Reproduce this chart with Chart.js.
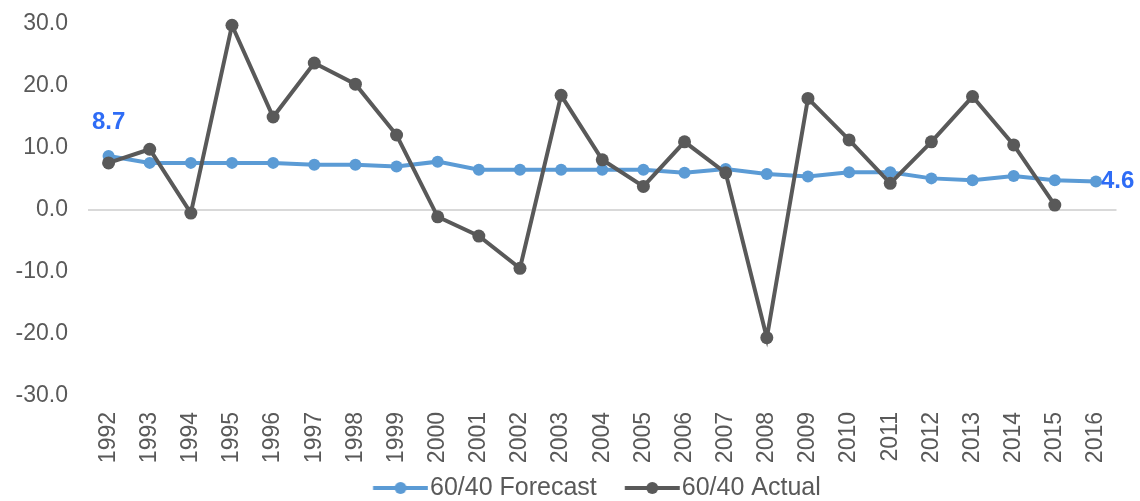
<!DOCTYPE html>
<html>
<head>
<meta charset="utf-8">
<script src="https://cdn.jsdelivr.net/npm/chart.js@4.4.1/dist/chart.umd.min.js"></script>
<style>
  html, body { margin: 0; padding: 0; background: #ffffff; }
  #wrap { width: 1140px; height: 501px; position: relative; }
</style>
</head>
<body>
<div id="wrap"><canvas id="c" width="1140" height="501"></canvas></div>
<script>
const years = ['1992','1993','1994','1995','1996','1997','1998','1999','2000','2001','2002','2003','2004','2005','2006','2007','2008','2009','2010','2011','2012','2013','2014','2015','2016'];
const forecast = [8.7, 7.6, 7.6, 7.6, 7.6, 7.3, 7.3, 7.0, 7.8, 6.5, 6.5, 6.5, 6.5, 6.5, 6.0, 6.6, 5.8, 5.4, 6.1, 6.1, 5.1, 4.8, 5.5, 4.8, 4.6];
const actual = [7.6, 9.8, -0.5, 29.8, 15.0, 23.7, 20.3, 12.1, -1.1, -4.2, -9.4, 18.5, 8.1, 3.8, 11.0, 6.0, -20.6, 18.0, 11.3, 4.3, 11.0, 18.3, 10.5, 0.8, null];
const yTicks = [-30, -20, -10, 0, 10, 20, 30];
const seriesNames = ['60/40 Forecast', '60/40 Actual'];

const colForecast = '#5B9BD5';
const colActual = '#595959';
const colLabel = '#2E6CF6';
const colText = '#595959';

function legendMarker(color) {
  const c = document.createElement('canvas');
  c.width = 82; c.height = 14;
  const g = c.getContext('2d');
  g.strokeStyle = color; g.lineWidth = 4;
  g.beginPath(); g.moveTo(26.75, 7); g.lineTo(81.75, 7); g.stroke();
  g.fillStyle = color;
  g.beginPath(); g.arc(54.25, 7, 6, 0, Math.PI * 2); g.fill();
  return c;
}

const endLabels = {
  id: 'endLabels',
  afterLayout(chart) {
    chart.legend.left += 60.8;
  },
  afterDatasetsDraw(chart) {
    const ctx = chart.ctx;
    const meta = chart.getDatasetMeta(0);
    const data = chart.data.datasets[0].data;
    const first = meta.data[0];
    const last = meta.data[data.length - 1];
    ctx.save();
    ctx.fillStyle = colLabel;
    ctx.font = 'bold 24px "Liberation Sans", Arial, sans-serif';
    ctx.textBaseline = 'middle';
    ctx.textAlign = 'center';
    ctx.fillText(data[0].toFixed(1), first.x, first.y - 34);
    ctx.textAlign = 'left';
    ctx.fillText(data[data.length - 1].toFixed(1), last.x + 5, last.y);
    ctx.restore();
  }
};

new Chart(document.getElementById('c'), {
  type: 'line',
  data: {
    labels: years,
    datasets: [
      {
        label: seriesNames[0],
        data: forecast,
        borderColor: colForecast,
        backgroundColor: colForecast,
        borderWidth: 4,
        pointRadius: 6,
        pointBorderWidth: 0,
        pointBackgroundColor: colForecast,
        tension: 0,
        order: 1,
        clip: false,
        pointStyle: 'circle'
      },
      {
        label: seriesNames[1],
        data: actual,
        borderColor: colActual,
        backgroundColor: colActual,
        borderWidth: 4,
        pointRadius: 6.5,
        pointBorderWidth: 0,
        pointBackgroundColor: colActual,
        tension: 0,
        order: 0,
        clip: false,
        pointStyle: 'circle'
      }
    ]
  },
  options: {
    responsive: false,
    animation: false,
    devicePixelRatio: 1,
    layout: { padding: { left: 0, right: 23, top: 24, bottom: -9.5 } },
    plugins: {
      tooltip: { enabled: false },
      legend: {
        position: 'bottom',
        labels: {
          usePointStyle: true,
          pointStyleWidth: 60.5,
          padding: 12,
          color: colText,
          font: { family: '"Liberation Sans", Arial, sans-serif', size: 25 },
          sort: (a, b) => a.datasetIndex - b.datasetIndex,
          generateLabels(chart) {
            return chart.data.datasets.map((ds, i) => ({
              text: ds.label,
              fillStyle: ds.borderColor,
              strokeStyle: ds.borderColor,
              lineWidth: 0,
              pointStyle: legendMarker(ds.borderColor),
              hidden: false,
              datasetIndex: i,
              fontColor: colText
            }));
          }
        }
      }
    },
    scales: {
      x: {
        offset: true,
        grid: { display: false, drawTicks: false },
        border: { display: false },
        ticks: {
          minRotation: 90, maxRotation: 90,
          autoSkip: false,
          padding: 16,
          color: colText,
          font: { family: '"Liberation Sans", Arial, sans-serif', size: 23 }
        },
        afterFit(scale) { scale.height = 67.5; }
      },
      y: {
        min: -30, max: 30,
        afterBuildTicks(scale) { scale.ticks = yTicks.map(v => ({ value: v })); },
        grid: {
          drawTicks: false,
          color: (ctx) => (ctx.tick && ctx.tick.value === 0) ? '#D9D9D9' : 'rgba(0,0,0,0)',
          lineWidth: 2
        },
        border: { display: false },
        ticks: {
          padding: 20,
          color: colText,
          font: { family: '"Liberation Sans", Arial, sans-serif', size: 23 },
          callback: (v) => Number(v).toFixed(1)
        },
        afterFit(scale) { scale.width = 88; scale.paddingTop = 0; scale.paddingBottom = 0; }
      }
    }
  },
  plugins: [endLabels]
});
</script>
</body>
</html>
